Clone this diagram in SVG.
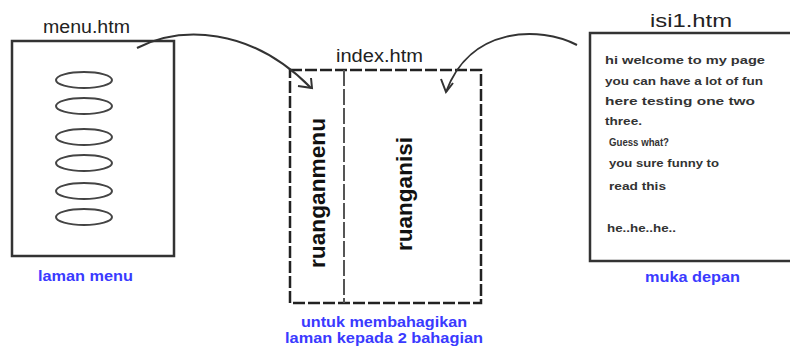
<svg xmlns="http://www.w3.org/2000/svg" width="790" height="354" viewBox="0 0 790 354">
<style>
.title{font-family:"Liberation Sans",Arial,sans-serif;font-size:18px;fill:#222}
.blue{font-family:"Liberation Sans",Arial,sans-serif;font-size:14px;font-weight:bold;fill:#3a3aff}
.body{font-family:"Liberation Sans",Arial,sans-serif;font-size:11.5px;font-weight:bold;fill:#333}
.vert{font-family:"Liberation Sans",Arial,sans-serif;font-size:22px;font-weight:bold;fill:#111}
.box{fill:none;stroke:#333;stroke-width:2.5}
.dash{fill:none;stroke:#222;stroke-width:2.5;stroke-dasharray:12 3}
.dash2{fill:none;stroke:#555;stroke-width:2;stroke-dasharray:16 3}
.ell{fill:none;stroke:#444;stroke-width:2}
.conn{fill:none;stroke:#333;stroke-width:2}
</style>
<rect width="790" height="354" fill="#fff"/>
<g id="menu">
<text class="title" x="43" y="33" textLength="87" lengthAdjust="spacingAndGlyphs">menu.htm</text>
<rect class="box" x="12" y="41" width="162" height="215"/>
<ellipse class="ell" cx="84" cy="80" rx="28" ry="8"/>
<ellipse class="ell" cx="84" cy="106" rx="28" ry="8"/>
<ellipse class="ell" cx="84" cy="137" rx="28" ry="8"/>
<ellipse class="ell" cx="84" cy="163" rx="28" ry="8"/>
<ellipse class="ell" cx="84" cy="191" rx="28" ry="8"/>
<ellipse class="ell" cx="84" cy="217" rx="28" ry="8"/>
<text class="blue" x="38" y="281" textLength="95" lengthAdjust="spacingAndGlyphs">laman menu</text>
</g>
<g id="index">
<text class="title" x="336" y="62" textLength="87" lengthAdjust="spacingAndGlyphs">index.htm</text>
<rect class="dash" x="290" y="70" width="191" height="233"/>
<line class="dash2" x1="344" y1="70" x2="344" y2="303"/>
<text class="vert" transform="translate(325,193) rotate(-90)" text-anchor="middle" textLength="150" lengthAdjust="spacingAndGlyphs">ruanganmenu</text>
<text class="vert" transform="translate(412,194) rotate(-90)" text-anchor="middle" textLength="114" lengthAdjust="spacingAndGlyphs">ruanganisi</text>
<text class="blue" x="384" y="327" text-anchor="middle" textLength="166" lengthAdjust="spacingAndGlyphs">untuk membahagikan</text>
<text class="blue" x="384" y="343" text-anchor="middle" textLength="198" lengthAdjust="spacingAndGlyphs">laman kepada 2 bahagian</text>
</g>
<g id="isi1">
<text class="title" x="650" y="27" textLength="82" lengthAdjust="spacingAndGlyphs">isi1.htm</text>
<rect class="box" x="590" y="33" width="210" height="228"/>
<text class="body" x="605" y="64" textLength="160" lengthAdjust="spacingAndGlyphs">hi  welcome to my page</text>
<text class="body" x="605" y="85" textLength="158" lengthAdjust="spacingAndGlyphs">you can have a lot of fun</text>
<text class="body" x="605" y="105" textLength="150" lengthAdjust="spacingAndGlyphs">here  testing one two</text>
<text class="body" x="605" y="125" textLength="37" lengthAdjust="spacingAndGlyphs">three.</text>
<text class="body" x="609" y="146" textLength="60" lengthAdjust="spacingAndGlyphs">Guess what?</text>
<text class="body" x="609" y="167" textLength="110" lengthAdjust="spacingAndGlyphs">you sure funny to</text>
<text class="body" x="609" y="190" textLength="57" lengthAdjust="spacingAndGlyphs">read this</text>
<text class="body" x="607" y="232" textLength="69" lengthAdjust="spacingAndGlyphs">he..he..he..</text>
<text class="blue" x="645" y="282" textLength="95" lengthAdjust="spacingAndGlyphs">muka depan</text>
</g>
<g id="connectors">
<path class="conn" d="M137,48 C180,26 250,26 311,88"/>
<path class="conn" d="M298,86 L312,88 L311,78"/>
<path class="conn" d="M577,45 C540,26 470,26 446,92"/>
<path class="conn" d="M441,79 L446,92 L453,83"/>
</g>
</svg>
